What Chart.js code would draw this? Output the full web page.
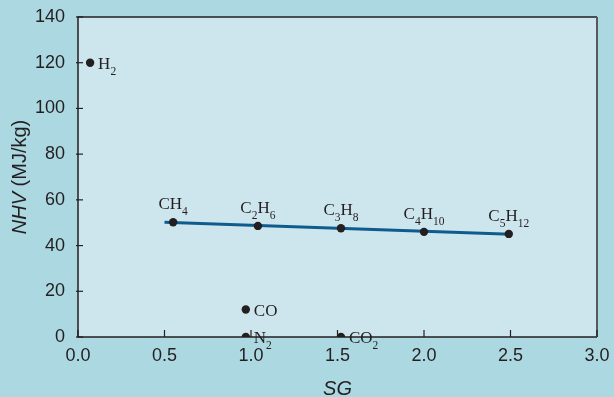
<!DOCTYPE html>
<html>
<head>
<meta charset="utf-8">
<script src="https://cdn.jsdelivr.net/npm/chart.js@4"></script>
<style>
  body { margin: 0; background: #acd8e1; }
  #wrap { width: 614px; height: 397px; }
</style>
</head>
<body>
<div id="wrap"><canvas id="nhvChart" width="614" height="397"></canvas></div>
<script>
  // Gas data
  const gasNames = ['H2', 'CH4', 'C2H6', 'C3H8', 'C4H10', 'C5H12', 'CO', 'N2', 'CO2'];
  const sgValues = [0.07, 0.55, 1.04, 1.52, 2.00, 2.49, 0.97, 0.97, 1.52];
  const nhvValues = [120, 50.2, 48.6, 47.6, 46.0, 45.1, 12, 0, 0];

  // Trend line through the alkanes
  const trendSG = [0.5, 2.5];
  const trendNHV = [50.2, 45.0];

  const xTicks = [0, 0.5, 1.0, 1.5, 2.0, 2.5, 3.0];
  const yTicks = [0, 20, 40, 60, 80, 100, 120, 140];

  const outerBg = '#acd8e1';
  const plotBg = '#cde6ed';
  const inkColor = '#231f20';

  // Names that get their label above the point (the rest go to the right)
  const aboveSet = new Set(['CH4', 'C2H6', 'C3H8', 'C4H10', 'C5H12']);

  // draw a formula with digits as subscripts
  function drawFormula(ctx, text, x, y, align) {
    const mainFont = '17px "Liberation Serif", "DejaVu Serif", serif';
    const subFont = '11.5px "Liberation Serif", "DejaVu Serif", serif';
    const parts = text.match(/[A-Za-z]+|\d+/g);
    let total = 0;
    parts.forEach(p => {
      ctx.font = /\d/.test(p) ? subFont : mainFont;
      total += ctx.measureText(p).width;
    });
    let cx = align === 'center' ? x - total / 2 : x;
    ctx.textAlign = 'left';
    ctx.textBaseline = 'alphabetic';
    parts.forEach(p => {
      const isSub = /\d/.test(p);
      ctx.font = isSub ? subFont : mainFont;
      ctx.fillText(p, cx, isSub ? y + 6 : y);
      cx += ctx.measureText(p).width;
    });
  }

  const framePlugin = {
    id: 'frame',
    beforeDraw(chart) {
      const { ctx, chartArea: a } = chart;
      ctx.save();
      ctx.fillStyle = outerBg;
      ctx.fillRect(0, 0, chart.width, chart.height);
      ctx.fillStyle = plotBg;
      ctx.fillRect(a.left, a.top, a.right - a.left, a.bottom - a.top);
      ctx.restore();
    },
    afterDatasetsDraw(chart) {
      const { ctx, chartArea: a, scales } = chart;
      ctx.save();
      // frame
      ctx.strokeStyle = inkColor;
      ctx.lineWidth = 1.5;
      ctx.beginPath();
      ctx.moveTo(a.right, a.top);
      ctx.lineTo(a.left, a.top);
      ctx.lineTo(a.left, a.bottom);
      ctx.lineTo(a.right, a.bottom);
      ctx.stroke();
      ctx.strokeStyle = '#58595b';
      ctx.lineWidth = 2;
      ctx.beginPath();
      ctx.moveTo(a.right, a.top);
      ctx.lineTo(a.right, a.bottom);
      ctx.stroke();

      // tick marks
      ctx.strokeStyle = inkColor;
      ctx.lineWidth = 1.2;
      xTicks.forEach(v => {
        const px = scales.x.getPixelForValue(v);
        ctx.beginPath();
        ctx.moveTo(px, a.bottom);
        ctx.lineTo(px, a.bottom - 7);
        ctx.stroke();
      });
      yTicks.forEach(v => {
        const py = scales.y.getPixelForValue(v);
        ctx.beginPath();
        ctx.moveTo(a.left - 2, py);
        ctx.lineTo(a.left + 5, py);
        ctx.stroke();
      });

      // point labels
      ctx.fillStyle = inkColor;
      const meta = chart.getDatasetMeta(0);
      meta.data.forEach((pt, i) => {
        const name = gasNames[i];
        if (aboveSet.has(name)) {
          drawFormula(ctx, name, pt.x, pt.y - 13, 'center');
        } else {
          drawFormula(ctx, name, pt.x + 8, pt.y + 6, 'left');
        }
      });

      // axis titles
      ctx.fillStyle = inkColor;
      ctx.font = 'italic 20px "Liberation Sans", Arial, sans-serif';
      ctx.textAlign = 'center';
      ctx.textBaseline = 'middle';
      ctx.fillText('SG', (a.left + a.right) / 2, 389);

      ctx.translate(20, (a.top + a.bottom) / 2);
      ctx.rotate(-Math.PI / 2);
      const t1 = 'NHV';
      const t2 = ' (MJ/kg)';
      ctx.font = 'italic 20px "Liberation Sans", Arial, sans-serif';
      const w1 = ctx.measureText(t1).width;
      ctx.font = '20px "Liberation Sans", Arial, sans-serif';
      const w2 = ctx.measureText(t2).width;
      ctx.textAlign = 'left';
      let sx = -(w1 + w2) / 2;
      ctx.font = 'italic 20px "Liberation Sans", Arial, sans-serif';
      ctx.fillText(t1, sx, 0);
      ctx.font = '20px "Liberation Sans", Arial, sans-serif';
      ctx.fillText(t2, sx + w1, 0);
      ctx.restore();
    }
  };

  const ctx = document.getElementById('nhvChart').getContext('2d');

  const chart = new Chart(ctx, {
    type: 'scatter',
    data: {
      datasets: [
        {
          label: 'Gases',
          data: sgValues.map((x, i) => ({ x: x, y: nhvValues[i] })),
          backgroundColor: inkColor,
          borderColor: inkColor,
          pointRadius: 4.2,
          pointHoverRadius: 4.2,
          borderWidth: 0
        },
        {
          label: 'Trend',
          type: 'line',
          data: trendSG.map((x, i) => ({ x: x, y: trendNHV[i] })),
          borderColor: '#0f5b8e',
          borderWidth: 3,
          pointRadius: 0,
          fill: false
        }
      ]
    },
    options: {
      responsive: false,
      animation: false,
      layout: { padding: { top: 17, right: 17, left: 0, bottom: 0 } },
      plugins: {
        legend: { display: false },
        tooltip: { enabled: false }
      },
      scales: {
        x: {
          type: 'linear',
          min: 0,
          max: 3,
          afterFit: scale => {
            scale.height = 60;
            scale.paddingLeft = 0;
            scale.paddingRight = 0;
          },
          afterBuildTicks: scale => { scale.ticks = xTicks.map(v => ({ value: v })); },
          grid: { display: false },
          border: { display: false },
          ticks: {
            padding: 0,
            color: inkColor,
            font: { family: '"Liberation Sans", Arial, sans-serif', size: 18 },
            callback: v => v.toFixed(1)
          }
        },
        y: {
          min: 0,
          max: 140,
          afterFit: scale => {
            scale.width = 78;
            scale.paddingTop = 0;
            scale.paddingBottom = 0;
          },
          afterBuildTicks: scale => { scale.ticks = yTicks.map(v => ({ value: v })); },
          grid: { display: false },
          border: { display: false },
          ticks: {
            padding: 5,
            color: inkColor,
            font: { family: '"Liberation Sans", Arial, sans-serif', size: 18 }
          }
        }
      }
    },
    plugins: [framePlugin]
  });
</script>
</body>
</html>
